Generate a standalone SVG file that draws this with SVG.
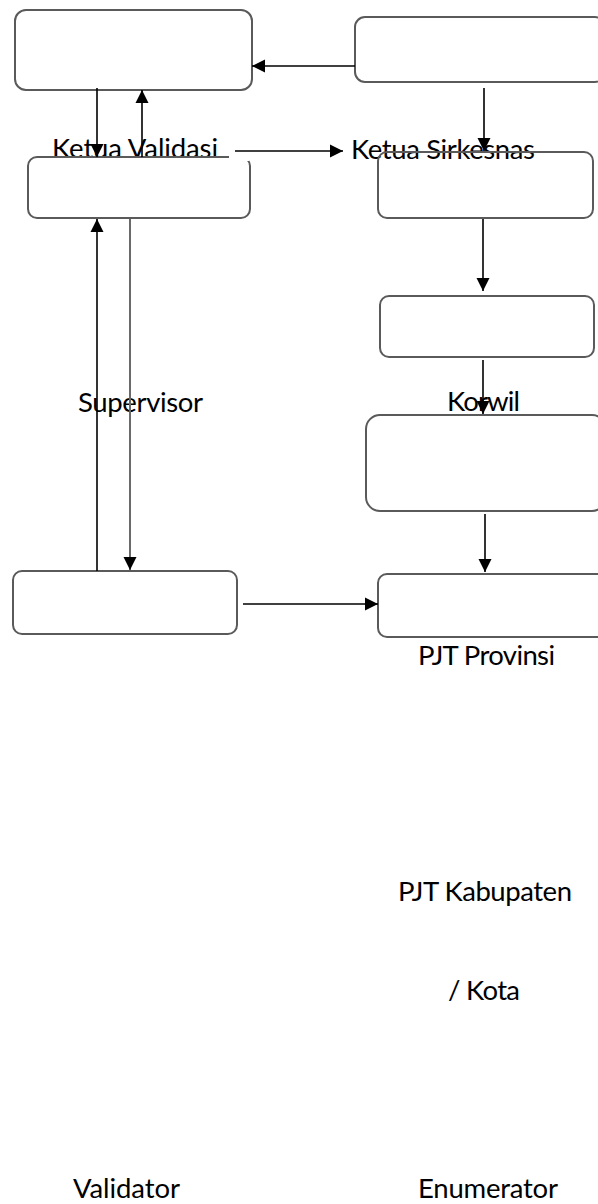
<svg xmlns="http://www.w3.org/2000/svg" width="598" height="1204" viewBox="0 0 598 1204">
<style>
.box{fill:none;stroke:#5a5a5a;stroke-width:2}
.lbl{font-family:Lato,"Liberation Sans",sans-serif;font-size:27.5px;fill:#000}
.arr{fill:none;stroke:#000;stroke-width:1.6;marker-end:url(#ah)}
.arrg{fill:none;stroke:#6a6a6a;stroke-width:2;marker-end:url(#ah)}
</style>
<defs>
<marker id="ah" markerUnits="userSpaceOnUse" markerWidth="14" markerHeight="14" refX="13" refY="7" orient="auto">
<path d="M0,0.5 L13,7 L0,13.5 z" fill="#000"/>
</marker>
</defs>
<rect width="598" height="1204" fill="#fff"/>
<g id="nodes">
<g id="ketua-validasi">
<rect class="box" x="15" y="10" width="237" height="80" rx="11"/>
<text class="lbl" x="52" y="158" textLength="166">Ketua Validasi</text>
</g>
<g id="ketua-sirkesnas">
<rect class="box" x="355" y="17" width="250" height="65" rx="10"/>
<text class="lbl" x="351" y="159" textLength="184">Ketua Sirkesnas</text>
</g>
<g id="supervisor">
<rect class="box" x="28" y="157" width="222" height="61" rx="9"/>
<rect x="229" y="142" width="20" height="19" fill="#fff"/>
<text class="lbl" x="78" y="412" textLength="125">Supervisor</text>
</g>
<g id="korwil">
<rect class="box" x="378" y="152" width="215" height="66" rx="9"/>
<text class="lbl" x="447" y="411" textLength="73">Korwil</text>
</g>
<g id="pjt-provinsi">
<rect class="box" x="380" y="296" width="214" height="61" rx="9"/>
<text class="lbl" x="418" y="665" textLength="137">PJT Provinsi</text>
</g>
<g id="pjt-kabupaten">
<rect class="box" x="366" y="415" width="240" height="96" rx="14"/>
<text class="lbl" x="398" y="901" textLength="174">PJT Kabupaten</text>
<text class="lbl" x="448" y="1000" textLength="72">/ Kota</text>
</g>
<g id="validator">
<rect class="box" x="13" y="571" width="224" height="63" rx="9"/>
<text class="lbl" x="73" y="1198" textLength="107">Validator</text>
</g>
<g id="enumerator">
<rect class="box" x="378" y="574" width="230" height="63" rx="9"/>
<text class="lbl" x="418" y="1198" textLength="140">Enumerator</text>
</g>
</g>
<g id="connectors">
<path class="arr" d="M355,66 L252,66"/>
<path class="arr" d="M97,88 L97,157"/>
<path class="arr" d="M142,157 L142,90"/>
<path class="arr" d="M235,151 L343,151"/>
<path class="arr" d="M484,88 L484,151"/>
<path class="arr" d="M483,219 L483,291"/>
<path class="arr" d="M483,360 L483,414"/>
<path class="arr" d="M485,514 L485,572"/>
<path class="arr" d="M243,604 L378,604"/>
<path class="arr" d="M97,571 L97,219"/>
<path class="arrg" d="M130,219 L130,570"/>
</g>
</svg>
